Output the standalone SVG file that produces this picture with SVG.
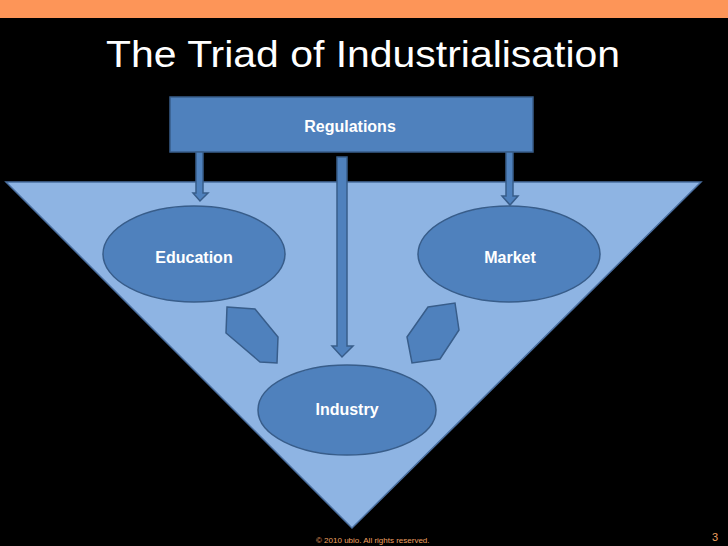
<svg xmlns="http://www.w3.org/2000/svg" width="728" height="546" viewBox="0 0 728 546">
<defs>
<style>
.shape{fill:#4f81bd;stroke:#385d8a;stroke-width:1.5}
.lbl{font-family:"Liberation Sans",Arial,sans-serif;font-weight:bold;font-size:16px;fill:#ffffff;text-anchor:middle}
.foot{font-family:"Liberation Sans",Arial,sans-serif;fill:#f0a060}
</style>
</defs>
<rect x="0" y="0" width="728" height="546" fill="#000000"/>
<rect x="0" y="0" width="728" height="18" fill="#fd9558"/>
<text x="106" y="67" font-family="Liberation Sans,Arial,sans-serif" font-size="37" fill="#ffffff" textLength="514" lengthAdjust="spacingAndGlyphs">The Triad of Industrialisation</text>
<g id="triangle">
<polygon points="6,182 701,182 352,528" fill="#8eb4e3" stroke="#4a6fa0" stroke-width="1.5"/>
</g>
<g id="regulations">
<rect class="shape" x="170" y="97" width="363" height="55"/>
<text class="lbl" x="350" y="132">Regulations</text>
</g>
<g id="connectors">
<polygon class="shape" points="196,152 203,152 203,193 208,193 200,201 193,193 196,193"/>
<polygon class="shape" points="506,152 513,152 513,196 518,196 510,205 502,196 506,196"/>
<polygon class="shape" points="337,157 347,157 347,346 353,346 342,357 332,346 337,346"/>
</g>
<g id="education">
<ellipse class="shape" cx="194" cy="254" rx="91" ry="48"/>
<text class="lbl" x="194" y="263">Education</text>
</g>
<g id="market">
<ellipse class="shape" cx="509" cy="254" rx="91" ry="48"/>
<text class="lbl" x="510" y="263">Market</text>
</g>
<g id="industry">
<ellipse class="shape" cx="347" cy="410" rx="89" ry="45"/>
<text class="lbl" x="347" y="415">Industry</text>
</g>
<g id="hex-left">
<polygon class="shape" points="227,307 255,309 278,337 277,363 260,362 226,333"/>
</g>
<g id="hex-right">
<polygon class="shape" points="428,307 455,303 459,330 440,359 412,363 407,337"/>
</g>
<text class="foot" x="316" y="543" font-size="8">© 2010 ubio. All rights reserved.</text>
<text class="foot" x="712" y="541" font-size="11">3</text>
</svg>
